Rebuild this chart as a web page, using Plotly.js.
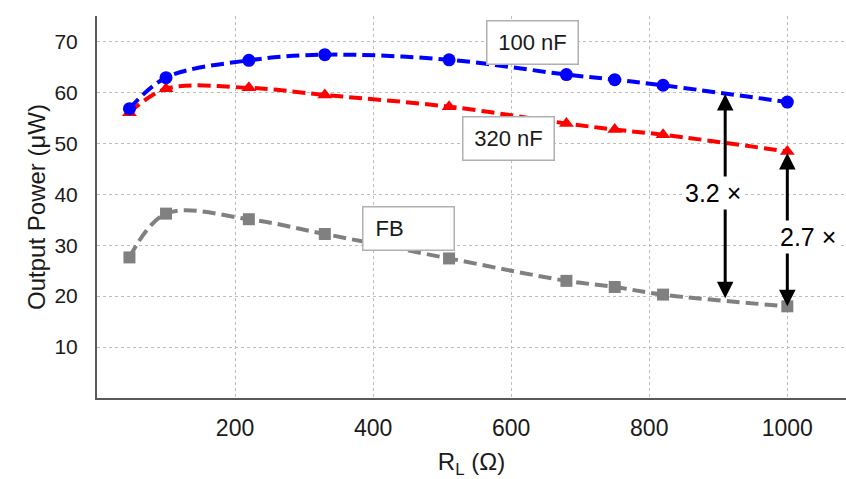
<!DOCTYPE html>
<html>
<head>
<meta charset="utf-8">
<script src="https://cdn.plot.ly/plotly-3.0.1.min.js"></script>
<style>html,body{margin:0;padding:0;background:#fff;}#chart{width:846px;height:479px;}</style>
</head>
<body>
<div id="chart"></div>
<script>
const resistance = [47, 100, 220, 330, 510, 680, 750, 820, 1000];
const power100nF = [56.8, 62.9, 66.3, 67.4, 66.4, 63.5, 62.5, 61.4, 58.1];
const power320nF = [56.0, 60.7, 60.9, 59.5, 57.2, 53.9, 52.7, 51.7, 48.4];
const powerFB = [27.6, 36.2, 35.1, 32.2, 27.4, 23.0, 21.8, 20.3, 18.0];
const xTicks = [200, 400, 600, 800, 1000];
const yTicks = [10, 20, 30, 40, 50, 60, 70];
const seriesNames = ["100 nF", "320 nF", "FB"];
const ratioLabels = ["3.2 ×", "2.7 ×"];

const font = "Liberation Sans, Arial, sans-serif";

function trace(y, name, color, symbol, size) {
  return {
    x: resistance, y: y, name: name, type: "scatter", mode: "lines+markers",
    line: {color: color, width: 4, dash: "13px,6px", shape: "spline", smoothing: 1},
    marker: {color: color, symbol: symbol, size: size},
    showlegend: false, hoverinfo: "skip"
  };
}

const data = [
  trace(powerFB, seriesNames[2], "#808080", "square", 12),
  trace(power320nF, seriesNames[1], "#ff0000", "triangle-up", 13),
  trace(power100nF, seriesNames[0], "#0000ff", "circle", 13)
];

function box(text, x, y, w, align) {
  return {
    text: text, x: x, y: y, xref: "x", yref: "y", showarrow: false,
    font: {family: font, size: 22, color: "#1a1a1a"},
    bgcolor: "#ffffff", bordercolor: "#b0b0b0", borderwidth: 1.5,
    width: w, height: 30, borderpad: 6, align: align
  };
}

function arrow(x, y0, y1) {
  return {
    x: x, y: y1, ax: x, ay: y0, xref: "x", yref: "y", axref: "x", ayref: "y",
    showarrow: true, arrowhead: 2, arrowsize: 1.1, arrowwidth: 3, arrowcolor: "#000",
    arrowside: "end+start", startarrowhead: 2, startarrowsize: 1.1, text: ""
  };
}

function ratio(text, x, y) {
  return {
    text: text, x: x, y: y, xref: "x", yref: "y", showarrow: false,
    font: {family: font, size: 25, color: "#000"}, bgcolor: "#ffffff", borderpad: 2
  };
}

const layout = {
  width: 846, height: 479,
  margin: {l: 97, r: 0, t: 16, b: 81},
  paper_bgcolor: "#fff", plot_bgcolor: "#fff",
  font: {family: font, color: "#1a1a1a"},
  xaxis: {
    range: [0, 1085], tickvals: xTicks, ticktext: xTicks.map(String),
    showgrid: true, gridcolor: "#bdbdbd", griddash: "dot", gridwidth: 1,
    showline: true, linecolor: "#595959", linewidth: 2,
    ticks: "outside", ticklen: 8, tickcolor: "rgba(0,0,0,0)",
    tickfont: {size: 23, color: "#1a1a1a"}, zeroline: false,
    title: {text: "R<sub>L</sub> (Ω)", font: {size: 24, color: "#1a1a1a"}, standoff: 15}
  },
  yaxis: {
    range: [0, 75], tickvals: yTicks, ticktext: yTicks.map(String),
    showgrid: true, gridcolor: "#bdbdbd", griddash: "dot", gridwidth: 1,
    showline: true, linecolor: "#595959", linewidth: 2,
    ticks: "outside", ticklen: 21, tickcolor: "rgba(0,0,0,0)",
    ticklabelstandoff: -8,
    tickfont: {size: 21, color: "#1a1a1a"}, zeroline: false,
    title: {text: "Output Power (μW)", font: {size: 24, color: "#1a1a1a"}, standoff: 2}
  },
  annotations: [
    box(seriesNames[0], 631, 69.8, 78, "center"),
    box(seriesNames[1], 596, 50.9, 78, "center"),
    box("\u00a0" + seriesNames[2], 451, 33.2, 78, "left"),
    arrow(910, 60.0, 19.6),
    arrow(1000, 48.4, 18.0),
    ratio(ratioLabels[0], 893, 40.3),
    ratio(ratioLabels[1], 1030, 31.7)
  ]
};

Plotly.newPlot("chart", data, layout, {displayModeBar: false, staticPlot: true});
</script>
</body>
</html>
